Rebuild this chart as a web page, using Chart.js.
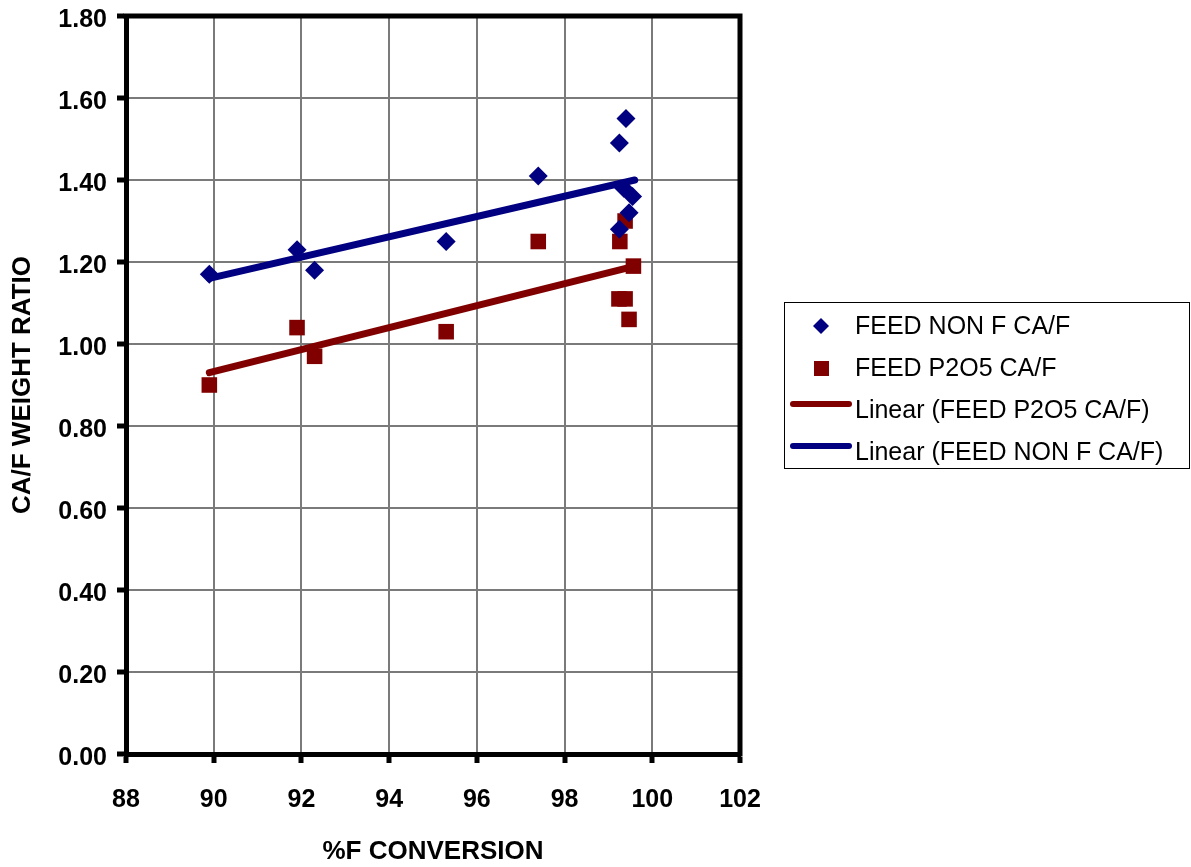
<!DOCTYPE html>
<html>
<head>
<meta charset="utf-8">
<script src="https://cdn.jsdelivr.net/npm/chart.js@4.4.0/dist/chart.umd.min.js"></script>
<style>
html,body{margin:0;padding:0;background:#fff;}
#c{display:block;}
</style>
</head>
<body>
<canvas id="c" width="1191" height="867"></canvas>
<script>
// ---- data ----
const nonFX  = [89.9, 91.9, 92.3, 95.3, 97.4, 99.25, 99.4, 99.35, 99.55, 99.47, 99.25];
const nonFY  = [1.17, 1.23, 1.18, 1.25, 1.41, 1.49, 1.55, 1.38, 1.36, 1.32, 1.28];
const p2o5X  = [89.9, 91.9, 92.3, 95.3, 97.4, 99.38, 99.26, 99.57, 99.24, 99.38, 99.47];
const p2o5Y  = [0.90, 1.04, 0.97, 1.03, 1.25, 1.30, 1.25, 1.19, 1.11, 1.11, 1.06];
const trendX = [89.9, 99.6];
const trendNonF = [1.16, 1.40];
const trendP2O5 = [0.93, 1.19];
const xTicks = [88, 90, 92, 94, 96, 98, 100, 102];
const yTicks = [0, 0.2, 0.4, 0.6, 0.8, 1.0, 1.2, 1.4, 1.6, 1.8];
const labels = ['FEED NON F CA/F', 'FEED P2O5 CA/F', 'Linear (FEED P2O5 CA/F)', 'Linear (FEED NON F CA/F)'];

const BLUE = '#000080', RED = '#800000';
const FONT = "'Liberation Sans', Arial, sans-serif";
const pts = (xs, ys) => xs.map((x, i) => ({x: x, y: ys[i]}));

const frame = {
  id: 'frame',
  afterDatasetsDraw(chart) {
    const {ctx, chartArea: a} = chart;
    ctx.save();
    ctx.strokeStyle = '#000';
    ctx.lineWidth = 5;
    ctx.lineCap = 'square';
    ctx.beginPath();
    ctx.moveTo(a.left, a.top); ctx.lineTo(a.right, a.top); ctx.lineTo(a.right, a.bottom);
    ctx.stroke();
    ctx.restore();
  },
  afterDraw(chart) {
    const ctx = chart.ctx;
    const ds = chart.data.datasets;
    ctx.save();
    ctx.strokeStyle = '#000';
    ctx.lineWidth = 1;
    ctx.strokeRect(784.5, 302.5, 405, 166);
    ctx.font = '25px ' + FONT;
    ctx.fillStyle = '#000';
    ctx.textBaseline = 'middle';
    const rows = [326, 368, 410, 452];
    const order = [0, 1, 3, 2];
    order.forEach((di, r) => {
      const d = ds[di];
      const y = rows[r];
      if (d.showLine) {
        ctx.strokeStyle = d.borderColor;
        ctx.lineWidth = 6;
        ctx.lineCap = 'round';
        ctx.beginPath();
        ctx.moveTo(793, y - 6); ctx.lineTo(849, y - 6);
        ctx.stroke();
      } else {
        ctx.fillStyle = d.backgroundColor;
        if (d.pointStyle === 'rectRot') {
          ctx.beginPath();
          ctx.moveTo(821, y - 8); ctx.lineTo(829, y); ctx.lineTo(821, y + 8); ctx.lineTo(813, y);
          ctx.closePath(); ctx.fill();
        } else {
          ctx.fillRect(814, y - 7, 15, 15);
        }
      }
      ctx.fillStyle = '#000';
      ctx.fillText(d.label, 855, y + 1);
    });
    ctx.restore();
  }
};

new Chart(document.getElementById('c'), {
  type: 'scatter',
  data: {
    datasets: [
      {label: labels[0], data: pts(nonFX, nonFY), pointStyle: 'rectRot', pointRadius: 9.5,
       backgroundColor: BLUE, borderColor: BLUE, borderWidth: 0, order: 1},
      {label: labels[1], data: pts(p2o5X, p2o5Y), pointStyle: 'rect', pointRadius: 11,
       backgroundColor: RED, borderColor: RED, borderWidth: 0, order: 1},
      {label: labels[3], data: pts(trendX, trendNonF), showLine: true, pointRadius: 0,
       borderColor: BLUE, backgroundColor: BLUE, borderWidth: 7, borderCapStyle: 'round', order: 2},
      {label: labels[2], data: pts(trendX, trendP2O5), showLine: true, pointRadius: 0,
       borderColor: RED, backgroundColor: RED, borderWidth: 7, borderCapStyle: 'round', order: 2}
    ]
  },
  options: {
    responsive: false,
    animation: false,
    devicePixelRatio: 1,
    layout: {padding: {left: 0, right: 451, top: 0, bottom: 0}},
    plugins: {legend: {display: false}, tooltip: {enabled: false}},
    events: [],
    scales: {
      x: {
        type: 'linear', min: 88, max: 102,
        afterBuildTicks: s => { s.ticks = xTicks.map(v => ({value: v})); },
        afterFit: s => { s.height = 113; },
        ticks: {font: {family: FONT, size: 25, weight: 'bold'}, color: '#000', padding: 22,
                callback: v => String(v), maxRotation: 0, autoSkip: false},
        grid: {color: '#7a7a7a', lineWidth: 2, tickColor: '#000', tickWidth: 5, tickLength: 9},
        border: {display: true, color: '#000', width: 5},
        title: {display: true, text: '%F CONVERSION', color: '#000',
                font: {family: FONT, size: 26, weight: 'bold'}, padding: {top: 0, bottom: 0}}
      },
      y: {
        type: 'linear', min: 0, max: 1.8,
        afterBuildTicks: s => { s.ticks = yTicks.map(v => ({value: v})); },
        afterFit: s => { s.width = 126; s.paddingTop = 16; s.paddingBottom = 0; },
        ticks: {font: {family: FONT, size: 25, weight: 'bold'}, color: '#000', padding: 10,
                labelOffset: 4,
                callback: v => Number(v).toFixed(2), autoSkip: false},
        grid: {color: '#7a7a7a', lineWidth: 2, tickColor: '#000', tickWidth: 5, tickLength: 9},
        border: {display: true, color: '#000', width: 5},
        title: {display: true, text: 'CA/F WEIGHT RATIO', color: '#000',
                font: {family: FONT, size: 26, weight: 'bold'}, padding: {top: 7, bottom: 0}}
      }
    }
  },
  plugins: [frame]
});
</script>
</body>
</html>
